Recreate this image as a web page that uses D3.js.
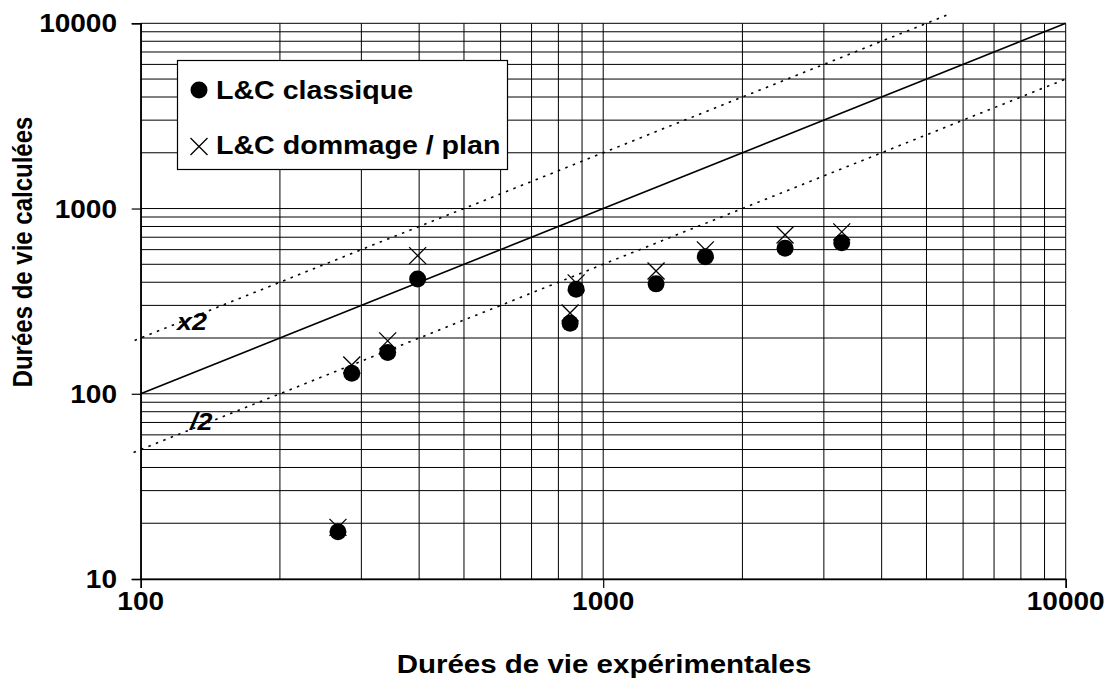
<!DOCTYPE html>
<html>
<head>
<meta charset="utf-8">
<script src="https://cdn.jsdelivr.net/npm/d3@7/dist/d3.min.js"></script>
<style>
  html, body { margin: 0; padding: 0; background: #fff; }
  svg { display: block; }
  text { font-family: "Liberation Sans", Arial, sans-serif; font-weight: bold; fill: #000; }
</style>
</head>
<body>
<svg id="chart" width="1113" height="680"></svg>
<script>
// Experimental vs computed lifetimes
const expLife      = [267, 286, 342, 397, 848, 874, 1301, 1663, 2473, 3279];
const lcClassique  = [18, 129, 167, 417, 240, 367, 392, 550, 610, 654];
const lcDommage    = [19, 143, 193, 557, 273, 397, 460, 598, 720, 748];

// Reference lines: y = x, y = 2x, y = x/2 (end points in data space)
const lineEqual = [[100, 100], [10000, 10000]];
const lineTimes2 = [[97, 194], [5530, 11060]];
const lineHalf = [[96.5, 48.25], [10160, 5080]];

const xTickValues = [100, 1000, 10000];
const yTickValues = [10, 100, 1000, 10000];
const seriesNames = ["L&C classique", "L&C dommage / plan"];

const svg = d3.select("#chart");
const SX = 1.12; // horizontal text stretch

const x = d3.scaleLog().domain([100, 10000]).range([140.7, 1065.7]);
const y = d3.scaleLog().domain([10, 10000]).range([579, 23.3]);

function stretchedText(g, px, py, str, opts) {
  const grp = g.append("g").attr("transform", `translate(${px},${py}) scale(${opts.sx || SX},1)`);
  const t = grp.append("text")
    .attr("text-anchor", opts.anchor || "start")
    .attr("font-size", opts.size || 25)
    .text(str);
  if (opts.italic) t.attr("font-style", "italic");
  return grp;
}

// Grid: every integer multiple within each decade
const gridX = [], gridY = [];
for (let d = 100; d <= 10000; d *= 10) for (let k = 1; k < 10; k++) { const v = d * k; if (v <= 10000) gridX.push(v); }
for (let d = 10; d <= 10000; d *= 10) for (let k = 1; k < 10; k++) { const v = d * k; if (v <= 10000) gridY.push(v); }

const grid = svg.append("g");
grid.selectAll("line.gx").data(gridX).join("line")
  .attr("x1", d => x(d)).attr("x2", d => x(d))
  .attr("y1", y(10)).attr("y2", y(10000))
  .attr("stroke", "#000").attr("stroke-width", 1);
grid.selectAll("line.gy").data(gridY).join("line")
  .attr("x1", x(100)).attr("x2", x(10000))
  .attr("y1", d => y(d)).attr("y2", d => y(d))
  .attr("stroke", "#000").attr("stroke-width", 1);

// Axes (major ticks outside)
const xAxis = d3.axisBottom(x).tickValues(xTickValues).tickSize(9).tickFormat("");
const yAxis = d3.axisLeft(y).tickValues(yTickValues).tickSize(9).tickFormat("");
svg.append("g").attr("transform", `translate(0,${y(10)})`).call(xAxis)
  .call(g => g.select(".domain").attr("stroke-width", 1.5))
  .call(g => g.selectAll(".tick line").attr("stroke-width", 1.2));
svg.append("g").attr("transform", `translate(${x(100)},0)`).call(yAxis)
  .call(g => g.select(".domain").attr("stroke-width", 1.5))
  .call(g => g.selectAll(".tick line").attr("stroke-width", 1.2));

// Tick labels
const labels = svg.append("g");
xTickValues.forEach(v => stretchedText(labels, x(v), 610, String(v), {anchor: "middle"}));
yTickValues.forEach(v => stretchedText(labels, 117, y(v) + 9, String(v), {anchor: "end"}));

// Axis titles
stretchedText(labels, 604, 673, "Durées de vie expérimentales", {anchor: "middle", sx: 1.18});
svg.append("g").attr("transform", `translate(32,252) rotate(-90) scale(1,${SX})`)
  .append("text").attr("text-anchor", "middle").attr("font-size", 24).text("Durées de vie calculées");

// Reference lines
const lineGen = d3.line().x(d => x(d[0])).y(d => y(d[1]));
svg.append("path").attr("d", lineGen(lineEqual)).attr("fill", "none")
  .attr("stroke", "#000").attr("stroke-width", 1.6);
[lineTimes2, lineHalf].forEach(l => {
  svg.append("path").attr("d", lineGen(l)).attr("fill", "none")
    .attr("stroke", "#000").attr("stroke-width", 1.6).attr("stroke-dasharray", "2.5,5.5");
});
stretchedText(labels, 177, 330, "x2", {italic: true, size: 24});
stretchedText(labels, 190, 430, "/2", {italic: true, size: 24});

// Data points
const pts = expLife.map((e, i) => ({e, c: lcClassique[i], d: lcDommage[i]}));
const R = 8.5, C = 8.5;
svg.append("g").selectAll("circle").data(pts).join("circle")
  .attr("cx", d => x(d.e)).attr("cy", d => y(d.c)).attr("r", R).attr("fill", "#000");
const crossPath = (cx, cy) => `M${cx - C},${cy - C}L${cx + C},${cy + C}M${cx - C},${cy + C}L${cx + C},${cy - C}`;
svg.append("g").selectAll("path").data(pts).join("path")
  .attr("d", d => crossPath(x(d.e), y(d.d)))
  .attr("stroke", "#000").attr("stroke-width", 1.3).attr("fill", "none");

// Legend
const lg = svg.append("g");
lg.append("rect").attr("x", 177.5).attr("y", 60.5).attr("width", 330).attr("height", 109)
  .attr("fill", "#fff").attr("stroke", "#000").attr("stroke-width", 1.2);
lg.append("circle").attr("cx", 199).attr("cy", 90).attr("r", R).attr("fill", "#000");
lg.append("path").attr("d", crossPath(199, 146.5)).attr("stroke", "#000").attr("stroke-width", 1.3);
stretchedText(lg, 216, 99, seriesNames[0], {size: 26, sx: 1.1});
stretchedText(lg, 216, 154, seriesNames[1], {size: 26, sx: 1.1});
</script>
</body>
</html>
